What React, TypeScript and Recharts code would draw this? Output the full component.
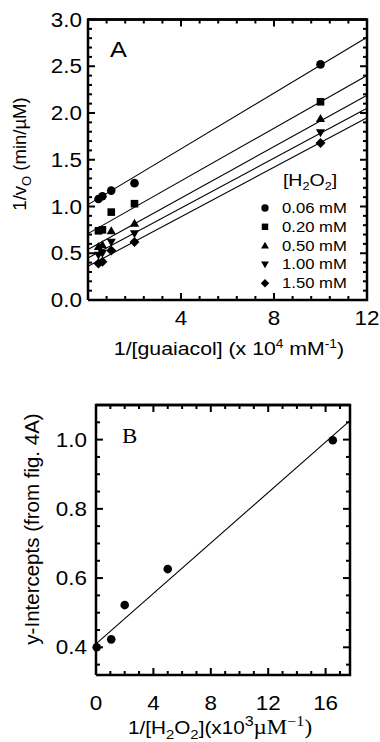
import React from "react";
import { ComposedChart, Scatter, XAxis, YAxis, ReferenceLine, Legend } from "recharts";

const SANS = "'Liberation Sans', Arial, Helvetica, sans-serif";
const SERIF = "'Liberation Serif', 'Times New Roman', serif";
const SX = 1.15; // the scan is a bit wider than tall

// ---- panel A: 1/v0 vs 1/[guaiacol] ----
const guaiacolInv = [0.45, 0.62, 1.0, 2.0, 10.0];
const h2o2Names = ["0.06 mM", "0.20 mM", "0.50 mM", "1.00 mM", "1.50 mM"];
const rate006 = [1.08, 1.11, 1.17, 1.25, 2.52];
const rate020 = [0.74, 0.75, 0.94, 1.03, 2.12];
const rate050 = [0.57, 0.59, 0.74, 0.82, 1.94];
const rate100 = [0.48, 0.5, 0.62, 0.71, 1.79];
const rate150 = [0.39, 0.41, 0.53, 0.62, 1.68];
// fitted lines, value at x = 0 and x = 12
const fitXA = [0, 12];
const fitStartA = [1.02, 0.71, 0.54, 0.45, 0.36];
const fitEndA = [2.81, 2.4, 2.19, 2.05, 1.95];

const domainAX = [0, 12];
const domainAY = [0, 3];
const ticksAX = [0, 0.8, 1.6, 2.4, 3.2, 4, 4.8, 5.6, 6.4, 7.2, 8, 8.8, 9.6, 10.4, 11.2, 12];
const majorsAX = [4, 8, 12];
const ticksAY = [
  0, 0.1, 0.2, 0.3, 0.4, 0.5, 0.6, 0.7, 0.8, 0.9, 1, 1.1, 1.2, 1.3, 1.4, 1.5,
  1.6, 1.7, 1.8, 1.9, 2, 2.1, 2.2, 2.3, 2.4, 2.5, 2.6, 2.7, 2.8, 2.9, 3,
];
const majorsAY = [0, 0.5, 1, 1.5, 2, 2.5, 3];

// ---- panel B: y-intercepts vs 1/[H2O2] ----
const h2o2Inv = [0.05, 1.06, 2.0, 5.0, 16.5];
const intercepts = [0.4, 0.423, 0.522, 0.626, 0.998];
const fitXB = [0, 17.7];
const fitYB = [0.41, 1.055];

const domainBX = [0, 17.7];
const domainBY = [0.32, 1.1];
const ticksBX = [0, 1, 2, 3, 4, 5, 6, 7, 8, 9, 10, 11, 12, 13, 14, 15, 16, 17];
const majorsBX = [0, 4, 8, 12, 16];
const ticksBY = [0.35, 0.4, 0.45, 0.5, 0.55, 0.6, 0.65, 0.7, 0.75, 0.8, 0.85, 0.9, 0.95, 1, 1.05, 1.1];
const majorsBY = [0.4, 0.6, 0.8, 1];

type Mark = "circle" | "square" | "up" | "down" | "diamond";
const marks: Mark[] = ["circle", "square", "up", "down", "diamond"];
const ratesA = [rate006, rate020, rate050, rate100, rate150];

const MINOR = 4;
const MAJOR = 7;
const TW = 2; // tick thickness
const FW = 2.5; // frame thickness

function Glyph({ kind, cx, cy, s = 1 }: { kind: Mark; cx: number; cy: number; s?: number }) {
  switch (kind) {
    case "circle":
      return <circle cx={cx} cy={cy} r={4.3 * s} fill="#000" />;
    case "square":
      return <rect x={cx - 3.8 * s} y={cy - 3.8 * s} width={7.6 * s} height={7.6 * s} fill="#000" />;
    case "up":
      return <path d={`M${cx},${cy - 4.6 * s}L${cx + 4.6 * s},${cy + 3.4 * s}L${cx - 4.6 * s},${cy + 3.4 * s}Z`} fill="#000" />;
    case "down":
      return <path d={`M${cx},${cy + 4.6 * s}L${cx + 4.6 * s},${cy - 3.4 * s}L${cx - 4.6 * s},${cy - 3.4 * s}Z`} fill="#000" />;
    default:
      return <path d={`M${cx},${cy - 5 * s}L${cx + 5 * s},${cy}L${cx},${cy + 5 * s}L${cx - 5 * s},${cy}Z`} fill="#000" />;
  }
}

// tick labels only; the tick marks are drawn as scatter marks on the frame
function makeTickLabel(side: "bottom" | "left", majors: number[], fmt: (v: number) => string, gap: number) {
  return (props: any) => {
    const x = Number(props.x);
    const y = Number(props.y);
    const v = props.payload.value;
    if (!majors.includes(v)) return <g />;
    const tx = side === "left" ? x - gap : x;
    const ty = side === "left" ? y + 7 : y + gap;
    return (
      <text
        transform={`translate(${tx} ${ty}) scale(${SX} 1)`}
        textAnchor={side === "left" ? "end" : "middle"}
        fontFamily={SANS}
        fontSize={19.5}
        fill="#000"
        stroke="none"
      >
        {fmt(v)}
      </text>
    );
  };
}

// inward tick bar at a point on the frame; dir says which way is inside
function tickMark(dir: "up" | "down" | "right" | "left", majors: number[], key: "x" | "y") {
  return (p: any) => {
    const cx = Number(p.cx);
    const cy = Number(p.cy);
    const len = majors.includes(p.payload[key]) ? MAJOR : MINOR;
    if (dir === "up") return <rect x={cx - TW / 2} y={cy - len} width={TW} height={len} fill="#000" />;
    if (dir === "down") return <rect x={cx - TW / 2} y={cy} width={TW} height={len} fill="#000" />;
    if (dir === "right") return <rect x={cx} y={cy - TW / 2} width={len} height={TW} fill="#000" />;
    return <rect x={cx - len} y={cy - TW / 2} width={len} height={TW} fill="#000" />;
  };
}

const noMark = () => <g />;

const oneDec = (v: number) => v.toFixed(1);
const plain = (v: number) => String(v);

const titleAX = () => (
  <text transform={`translate(229 355) scale(${SX} 1)`} textAnchor="middle" fontFamily={SANS} fontSize={18.5} fill="#000">
    1/[guaiacol] (x 10<tspan dy={-7} fontSize={12}>4</tspan>
    <tspan dy={7}> mM</tspan>
    <tspan dy={-7} fontSize={12}>-1</tspan>
    <tspan dy={7}>)</tspan>
  </text>
);

const titleAY = () => (
  <text transform="translate(25.5 154) rotate(-90)" textAnchor="middle" fontFamily={SANS} fontSize={18.5} fill="#000">
    1/v<tspan dy={5} fontSize={13}>O</tspan>
    <tspan dy={-5}> (min/µM)</tspan>
  </text>
);

const letterA = () => (
  <text transform={`translate(110 57) scale(${SX} 1)`} fontFamily={SANS} fontSize={22} fill="#000">
    A
  </text>
);

const titleBX = () => (
  <text transform={`translate(128 354) scale(${SX} 1)`} fontFamily={SANS} fontSize={18} fill="#000">
    1/[H<tspan dy={5} fontSize={13}>2</tspan>
    <tspan dy={-5}>O</tspan>
    <tspan dy={5} fontSize={13}>2</tspan>
    <tspan dy={-5}>](x10</tspan>
    <tspan dy={-8} fontSize={14}>3</tspan>
    <tspan dy={8} fontFamily={SERIF} fontSize={20}>µM</tspan>
    <tspan dy={-8} fontFamily={SERIF} fontSize={14}>−1</tspan>
    <tspan dy={8} fontFamily={SERIF} fontSize={20}>)</tspan>
  </text>
);

const titleBY = () => (
  <text transform="translate(38.5 149) rotate(-90)" textAnchor="middle" fontFamily={SANS} fontSize={20.5} fill="#000">
    y-Intercepts (from fig. 4A)
  </text>
);

const letterB = () => (
  <text transform={`translate(122 63) scale(${SX} 1)`} fontFamily={SERIF} fontSize={20} fill="#000">
    B
  </text>
);

const legendA = () => (
  <svg width={120} height={130} style={{ display: "block" }}>
    <text transform={`translate(60 21) scale(${SX} 1)`} textAnchor="middle" fontFamily={SANS} fontSize={17} fill="#000">
      [H<tspan dy={4} fontSize={11}>2</tspan>
      <tspan dy={-4}>O</tspan>
      <tspan dy={4} fontSize={11}>2</tspan>
      <tspan dy={-4}>]</tspan>
    </text>
    {h2o2Names.map((name, i) => {
      const cy = 43 + i * 18.8;
      return (
        <g key={name}>
          <Glyph kind={marks[i]} cx={15} cy={cy} s={0.85} />
          <text transform={`translate(32 ${cy + 5}) scale(${SX} 1)`} fontFamily={SANS} fontSize={14.5} fill="#000">
            {name}
          </text>
        </g>
      );
    })}
  </svg>
);

const axisBase = {
  type: "number" as const,
  interval: 0 as const,
  axisLine: false,
  tickLine: false,
  tickSize: 0,
  tickMargin: 0,
};

// frame outline and inward ticks on all four sides, as scatter series on the chart scales
function frameAndTicks(dx: number[], dy: number[], tx: number[], mx: number[], ty: number[], my: number[], letter: () => React.ReactElement) {
  const corners = [
    { x: dx[0], y: dy[0] },
    { x: dx[1], y: dy[0] },
    { x: dx[1], y: dy[1] },
    { x: dx[0], y: dy[1] },
    { x: dx[0], y: dy[0] },
  ];
  return [
    <Scatter key="frame" data={corners} line={{ stroke: "#000", strokeWidth: FW }} lineType="joint"
      shape={noMark} legendType="none" isAnimationActive={false} />,
    <Scatter key="tb" data={tx.map((x) => ({ x, y: dy[0] }))} shape={tickMark("up", mx, "x")} legendType="none" isAnimationActive={false} />,
    <Scatter key="tt" data={tx.map((x) => ({ x, y: dy[1] }))} shape={tickMark("down", mx, "x")} legendType="none" isAnimationActive={false} />,
    <Scatter key="tl" data={ty.map((y) => ({ x: dx[0], y }))} shape={tickMark("right", my, "y")} legendType="none" isAnimationActive={false} />,
    <Scatter key="tr" data={ty.map((y) => ({ x: dx[1], y }))} shape={tickMark("left", my, "y")} legendType="none" isAnimationActive={false} />,
    <ReferenceLine key="ft" y={dy[1]} stroke="#000" strokeWidth={FW} label={letter} />,
  ];
}

export default function App() {
  const seriesA = ratesA.map((rates) => rates.map((y, i) => ({ x: guaiacolInv[i], y })));
  const pointsB = intercepts.map((y, i) => ({ x: h2o2Inv[i], y }));

  return (
    <div style={{ position: "absolute", left: 0, top: 0, width: 380, height: 742, background: "#fff", fontFamily: SANS }}>
      <div style={{ position: "absolute", left: 0, top: 0 }}>
        <ComposedChart width={380} height={372} margin={{ top: 19.5, right: 13, bottom: 0, left: 0 }}>
          <XAxis {...axisBase} dataKey="x" domain={domainAX} ticks={ticksAX} height={72}
            tick={makeTickLabel("bottom", majorsAX, plain, 25)} label={titleAX} />
          <YAxis {...axisBase} dataKey="y" domain={domainAY} ticks={ticksAY} width={88}
            tick={makeTickLabel("left", majorsAY, oneDec, 6)} label={titleAY} />
          {fitStartA.map((y0, i) => (
            <ReferenceLine
              key={"fit" + i}
              segment={[
                { x: fitXA[0], y: y0 },
                { x: fitXA[1], y: fitEndA[i] },
              ]}
              stroke="#000"
              strokeWidth={1.1}
            />
          ))}
          {frameAndTicks(domainAX, domainAY, ticksAX, majorsAX, ticksAY, majorsAY, letterA)}
          {seriesA.map((data, i) => (
            <Scatter
              key={h2o2Names[i]}
              name={h2o2Names[i]}
              data={data}
              isAnimationActive={false}
              shape={(p: any) => <Glyph kind={marks[i]} cx={p.cx} cy={p.cy} />}
            />
          ))}
          <Legend
            layout="vertical"
            align="center"
            verticalAlign="middle"
            content={legendA}
            wrapperStyle={{ left: 250, top: 165, width: 120, height: 130 }}
          />
        </ComposedChart>
      </div>

      <div style={{ position: "absolute", left: 0, top: 380 }}>
        <ComposedChart width={380} height={362} margin={{ top: 25, right: 30, bottom: 0, left: 0 }}>
          <XAxis {...axisBase} dataKey="x" domain={domainBX} ticks={ticksBX} height={67}
            tick={makeTickLabel("bottom", majorsBX, plain, 35)} label={titleBX} />
          <YAxis {...axisBase} dataKey="y" domain={domainBY} ticks={ticksBY} width={96}
            tick={makeTickLabel("left", majorsBY, oneDec, 9)} label={titleBY} />
          <ReferenceLine
            segment={[
              { x: fitXB[0], y: fitYB[0] },
              { x: fitXB[1], y: fitYB[1] },
            ]}
            stroke="#000"
            strokeWidth={1.1}
          />
          {frameAndTicks(domainBX, domainBY, ticksBX, majorsBX, ticksBY, majorsBY, letterB)}
          <Scatter
            name="y-intercepts"
            data={pointsB}
            isAnimationActive={false}
            shape={(p: any) => <Glyph kind="circle" cx={p.cx} cy={p.cy} />}
          />
        </ComposedChart>
      </div>
    </div>
  );
}
